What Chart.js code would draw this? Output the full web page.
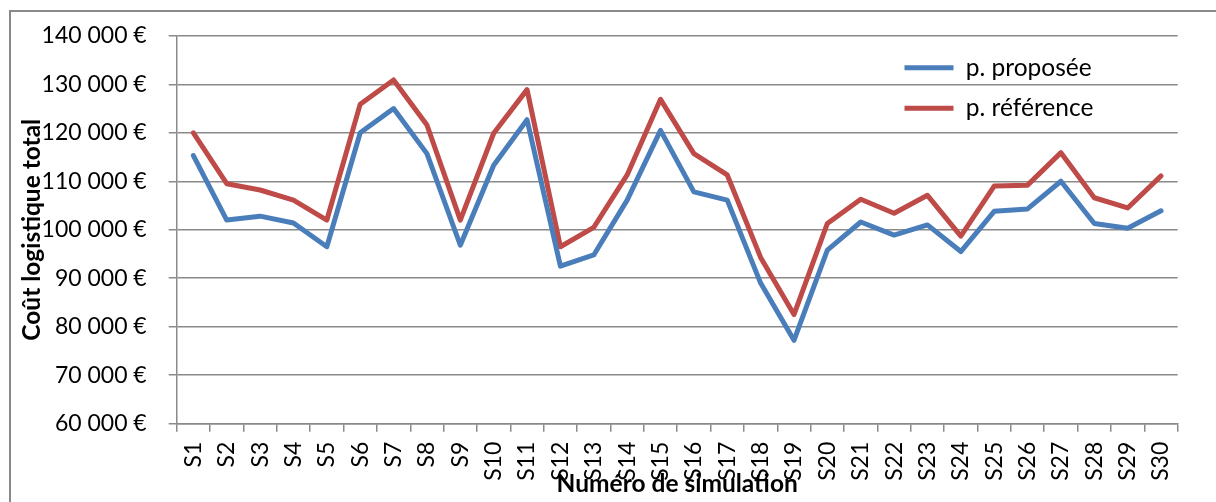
<!DOCTYPE html>
<html><head><meta charset="utf-8">
<script src="https://cdn.jsdelivr.net/npm/chart.js@4.4.1/dist/chart.umd.min.js"></script>
<style>
html,body{margin:0;padding:0;background:#fff;overflow:hidden;width:1216px;height:502px;}
#frame{position:absolute;left:9px;top:10px;width:1400px;height:700px;border:2px solid #898989;box-sizing:border-box;}
#wrap{position:absolute;left:0;top:0;width:1216px;height:502px;}
canvas{display:block;}
</style></head><body>
<div id="frame"></div>
<div id="wrap"><canvas id="c" width="1216" height="502" style="width:1216px;height:502px"></canvas></div>
<script>
const categories = ['S1','S2','S3','S4','S5','S6','S7','S8','S9','S10','S11','S12','S13','S14','S15','S16','S17','S18','S19','S20','S21','S22','S23','S24','S25','S26','S27','S28','S29','S30'];
const proposee = [115300,102000,102800,101400,96500,120000,125000,115700,96800,113300,122700,92500,94800,106100,120500,107800,106100,89000,77200,95800,101600,98900,101000,95500,103800,104300,110000,101300,100300,103900];
const reference = [120000,109500,108200,106100,102000,125900,130900,121600,102000,119900,128900,96500,100500,111300,126900,115700,111300,94300,82500,101300,106300,103400,107100,98700,109000,109200,115900,106600,104500,111100];
const seriesNames = ['p. proposée','p. référence'];
const yMin = 60000, yMax = 140000, yStep = 10000;
const yTitle = 'Coût logistique total';
const xTitle = 'Numéro de simulation';

const FONT = 'Lato';
const GRID = '#8a8a8a';
const TICK_SIZE = 23;
const TITLE_SIZE = 24.5;
const LEGEND_SIZE = 24.5;

function fmtEuro(v){
  return String(Math.round(v)).replace(/\B(?=(\d{3})+(?!\d))/g,' ') + ' €';
}

const legendMover = {
  id:'legendMover',
  afterLayout(chart){
    const lg = chart.legend;
    if(!lg) return;
    const pad = lg.options.labels.padding;
    const w = lg.width, h = lg.height;
    lg.left = 904.5 - pad; lg.right = lg.left + w;
    lg.top = (67.7 - LEGEND_SIZE/2) - pad; lg.bottom = lg.top + h + 40;
  }
};

function build(){
  new Chart(document.getElementById('c'), {
    type:'line',
    data:{
      labels:categories,
      datasets:[
        {label:seriesNames[0], data:proposee, borderColor:'#4A7EBB', backgroundColor:'#4A7EBB', borderWidth:5, pointRadius:0, tension:0, borderCapStyle:'round', borderJoinStyle:'round'},
        {label:seriesNames[1], data:reference, borderColor:'#BE4B48', backgroundColor:'#BE4B48', borderWidth:5, pointRadius:0, tension:0, borderCapStyle:'round', borderJoinStyle:'round'}
      ]
    },
    options:{
      responsive:false,
      animation:false,
      devicePixelRatio:1,
      layout:{padding:{left:0,right:38.3,top:35.7,bottom:0}},
      plugins:{
        legend:{
          position:'chartArea',
          align:'start',
          labels:{
            usePointStyle:true, pointStyle:'line', pointStyleWidth:49,
            padding:16.1, color:'#000',
            font:{family:FONT, size:LEGEND_SIZE}
          }
        },
        tooltip:{enabled:false}
      },
      scales:{
        x:{
          type:'category',
          offset:true,
          grid:{offset:true, drawOnChartArea:false, drawTicks:true, tickLength:8, color:GRID, lineWidth:1.5},
          border:{display:true, color:GRID, width:1.5},
          ticks:{autoSkip:false, maxRotation:90, minRotation:90, padding:10, color:'#000', font:{family:FONT, size:TICK_SIZE}},
          title:{display:true, text:xTitle, color:'#000', font:{family:FONT, size:TITLE_SIZE, weight:'bold'}, padding:{top:0,bottom:3}},
          afterFit(s){ s.height = 502 - 423.7; }
        },
        y:{
          min:yMin, max:yMax,
          grid:{color:GRID, lineWidth:1.5, tickLength:8, drawTicks:true},
          border:{display:true, color:GRID, width:1.5},
          ticks:{stepSize:yStep, padding:22, color:'#000', font:{family:FONT, size:TICK_SIZE}, callback:(v)=>fmtEuro(v)},
          title:{display:true, text:yTitle, color:'#000', font:{family:FONT, size:TITLE_SIZE, weight:'bold'}, padding:{top:17,bottom:0}},
          afterFit(s){ s.width = 176.7; }
        }
      }
    },
    plugins:[legendMover]
  });
}
if (document.fonts && document.fonts.load) {
  Promise.all([document.fonts.load('23px Lato'), document.fonts.load('bold 24px Lato')]).then(build, build);
} else build();
</script>
</body></html>
